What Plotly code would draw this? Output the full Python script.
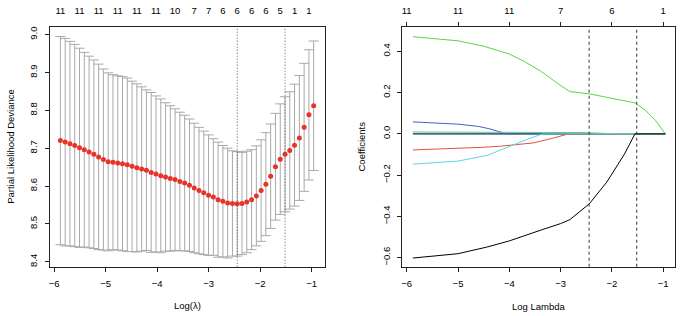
import plotly.graph_objects as go

# ---------------- data: cross-validation curve ----------------
log_lambda = [-5.878, -5.785, -5.692, -5.600, -5.507, -5.414, -5.321, -5.228, -5.136, -5.043,
              -4.950, -4.857, -4.764, -4.672, -4.579, -4.486, -4.393, -4.300, -4.208, -4.115,
              -4.022, -3.929, -3.836, -3.744, -3.651, -3.558, -3.465, -3.372, -3.280, -3.187,
              -3.094, -3.001, -2.908, -2.816, -2.723, -2.630, -2.537, -2.444, -2.352, -2.259,
              -2.166, -2.073, -1.980, -1.888, -1.795, -1.702, -1.609, -1.516, -1.424, -1.331,
              -1.238, -1.145, -1.052, -0.960]
cv_mean = [8.720, 8.716, 8.712, 8.707, 8.701, 8.696, 8.690, 8.684, 8.677, 8.670,
           8.664, 8.663, 8.661, 8.659, 8.656, 8.652, 8.648, 8.645, 8.642, 8.636,
           8.632, 8.627, 8.624, 8.620, 8.617, 8.612, 8.608, 8.602, 8.595, 8.588,
           8.582, 8.576, 8.571, 8.564, 8.560, 8.555, 8.554, 8.553, 8.554, 8.558,
           8.564, 8.574, 8.588, 8.605, 8.626, 8.651, 8.671, 8.684, 8.694, 8.708,
           8.727, 8.755, 8.788, 8.812]
cv_upper = [8.995, 8.990, 8.982, 8.974, 8.964, 8.953, 8.943, 8.933, 8.922, 8.909,
            8.899, 8.894, 8.891, 8.889, 8.885, 8.877, 8.870, 8.862, 8.854, 8.847,
            8.838, 8.830, 8.820, 8.812, 8.804, 8.795, 8.787, 8.777, 8.766, 8.755,
            8.745, 8.735, 8.725, 8.716, 8.707, 8.700, 8.693, 8.691, 8.689, 8.692,
            8.696, 8.706, 8.722, 8.741, 8.764, 8.792, 8.817, 8.836, 8.849, 8.869,
            8.892, 8.924, 8.960, 8.983]
nz_tick_idx = [0, 4, 8, 12, 16, 20, 24, 28, 31, 34, 37, 40, 43, 46, 49, 52]
nz_tick_text = ["11", "11", "11", "11", "11", "11", "10", "7", "7", "6", "6", "6", "6", "5", "1", "1"]
log_lambda_min = -2.444
log_lambda_1se = -1.516

cv_xticks = [-6, -5, -4, -3, -2, -1]
cv_yticks = [8.4, 8.5, 8.6, 8.7, 8.8, 8.9, 9.0]
cv_ytext = ["8.4", "8.5", "8.6", "8.7", "8.8", "8.9", "9.0"]

# ---------------- data: coefficient paths ----------------
coef_xticks = [-6, -5, -4, -3, -2, -1]
coef_top_text = ["11", "11", "11", "7", "6", "1"]
coef_yticks = [-0.6, -0.4, -0.2, 0.0, 0.2, 0.4]
coef_ytext = ["\u22120.6", "\u22120.4", "\u22120.2", "0.0", "0.2", "0.4"]

black_x = [-5.88, -5.0, -4.44, -4.0, -3.4, -3.0, -2.82, -2.44, -2.1, -1.84, -1.76, -1.55, -0.96]
black_y = [-0.602, -0.581, -0.549, -0.519, -0.468, -0.435, -0.416, -0.339, -0.234, -0.129, -0.100, 0.0, 0.0]
green_x = [-5.88, -5.0, -4.5, -4.0, -3.7, -3.4, -3.0, -2.82, -2.44, -2.0, -1.55, -1.35, -1.15, -0.96]
green_y = [0.471, 0.451, 0.425, 0.387, 0.350, 0.306, 0.234, 0.205, 0.194, 0.174, 0.150, 0.115, 0.065, 0.0]
red_x = [-5.88, -5.0, -4.5, -4.18, -3.53, -3.2, -2.84, -0.96]
red_y = [-0.078, -0.071, -0.065, -0.060, -0.044, -0.024, 0.0, 0.0]
cyan_x = [-5.88, -5.0, -4.44, -3.95, -3.6, -3.35, -0.96]
cyan_y = [-0.147, -0.132, -0.105, -0.055, -0.022, 0.0, 0.0]
blue_x = [-5.88, -5.0, -4.6, -4.38, -4.05, -0.96]
blue_y = [0.058, 0.047, 0.036, 0.024, 0.0, 0.0]
green2_x = [-5.88, -3.5, -2.5, -1.9, -0.96]
green2_y = [0.009, 0.008, 0.006, 0.0, 0.0]
zero_x = [-5.88, -0.96]
zero_y = [0.0, 0.0]

RED = "#E8332A"
C_BLACK = "#000000"
C_RED = "#E5503F"
C_GREEN = "#61D04F"
C_BLUE = "#3F63D0"
C_CYAN = "#5CD4E8"
FONT = "Liberation Sans, Arial, sans-serif"

cv_err = [u - m for u, m in zip(cv_upper, cv_mean)]

fig = go.Figure()
fig.add_trace(go.Scatter(
    x=log_lambda, y=cv_mean, mode="markers",
    marker=dict(size=1, color="rgba(0,0,0,0)"),
    error_y=dict(type="data", array=cv_err, symmetric=True, color="#A9A9A9", thickness=1, width=5),
    xaxis="x", yaxis="y", hoverinfo="skip", showlegend=False))
fig.add_trace(go.Scatter(
    x=log_lambda, y=cv_mean, mode="markers",
    marker=dict(size=5, color=RED), xaxis="x", yaxis="y", showlegend=False))
fig.add_trace(go.Scatter(x=[], y=[], xaxis="x3", yaxis="y", showlegend=False))

paths = [
    (zero_x, zero_y, C_BLACK),
    (zero_x, zero_y, C_BLUE),
    (blue_x, blue_y, C_BLUE),
    (red_x, red_y, C_RED),
    (green2_x, green2_y, C_GREEN),
    (cyan_x, cyan_y, C_CYAN),
    (green_x, green_y, C_GREEN),
    (black_x, black_y, C_BLACK),
]
for px, py, col in paths:
    fig.add_trace(go.Scatter(x=px, y=py, mode="lines", line=dict(color=col, width=1),
                             xaxis="x2", yaxis="y2", showlegend=False))
fig.add_trace(go.Scatter(x=[], y=[], xaxis="x4", yaxis="y2", showlegend=False))

for v in (log_lambda_min, log_lambda_1se):
    fig.add_shape(type="line", xref="x", yref="y domain", x0=v, x1=v, y0=0, y1=1,
                  line=dict(color="#555555", width=1, dash="1px,2px"))
    fig.add_shape(type="line", xref="x2", yref="y2 domain", x0=v, x1=v, y0=0, y1=1,
                  line=dict(color="#333333", width=1, dash="3px,3px"))

W, H = 685, 316
ydom = [1 - 266.7 / H, 1 - 27 / H]
ax_common = dict(showgrid=False, zeroline=False, showline=True, mirror=True, automargin=False,
                 linecolor="#222222", linewidth=1, ticks="outside", ticklen=4,
                 tickcolor="#222222", tickfont=dict(size=9.5, color="black", family=FONT))
top_common = dict(showgrid=False, zeroline=False, showline=False, automargin=False,
                  tickfont=dict(size=9.5, color="black", family=FONT))

fig.update_layout(
    width=W, height=H, margin=dict(l=0, r=0, t=0, b=0),
    paper_bgcolor="white", plot_bgcolor="white",
    font=dict(family=FONT, size=9.5, color="black"),
    xaxis=dict(domain=[50 / W, 325 / W], range=[-6.08, -0.74], anchor="y",
               tickvals=cv_xticks, ticklabelstandoff=4, **ax_common),
    yaxis=dict(domain=ydom, range=[8.387, 9.02], anchor="x",
               tickvals=cv_yticks, ticktext=cv_ytext, tickangle=-90, ticklabelstandoff=4, **ax_common),
    xaxis3=dict(overlaying="x", side="top", anchor="y", range=[-6.08, -0.74],
                tickvals=[log_lambda[i] for i in nz_tick_idx], ticktext=nz_tick_text,
                ticks="", ticklabelstandoff=10, **top_common),
    xaxis2=dict(domain=[402.3 / W, 675 / W], range=[-6.086, -0.77], anchor="y2",
                tickvals=coef_xticks, ticklabelstandoff=4, **ax_common),
    yaxis2=dict(domain=ydom, range=[-0.644, 0.518], anchor="x2",
                tickvals=coef_yticks, ticktext=coef_ytext, tickangle=-90, ticklabelstandoff=4, **ax_common),
    xaxis4=dict(overlaying="x2", side="top", anchor="y2", range=[-6.086, -0.77],
                tickvals=coef_xticks, ticktext=coef_top_text, ticks="outside", ticklen=4,
                tickcolor="#222222", ticklabelstandoff=4, **top_common),
    annotations=[
        dict(text="Partial Likelihood Deviance", x=11 / W, y=1 - 146.8 / H, xref="paper", yref="paper",
             textangle=-90, showarrow=False, xanchor="center", yanchor="middle", font=dict(size=9.5)),
        dict(text="Log(\u03bb)", x=187.5 / W, y=1 - 305 / H, xref="paper", yref="paper",
             showarrow=False, xanchor="center", yanchor="middle", font=dict(size=9.5)),
        dict(text="Coefficients", x=361.7 / W, y=1 - 146.8 / H, xref="paper", yref="paper",
             textangle=-90, showarrow=False, xanchor="center", yanchor="middle", font=dict(size=9.5)),
        dict(text="Log Lambda", x=538.7 / W, y=1 - 306 / H, xref="paper", yref="paper",
             showarrow=False, xanchor="center", yanchor="middle", font=dict(size=9.5)),
    ],
)

fig.write_html("out.html", config={"displayModeBar": False},
               post_script="document.body.style.margin='0';document.body.style.padding='0';"
                           "document.body.style.overflow='hidden';")
